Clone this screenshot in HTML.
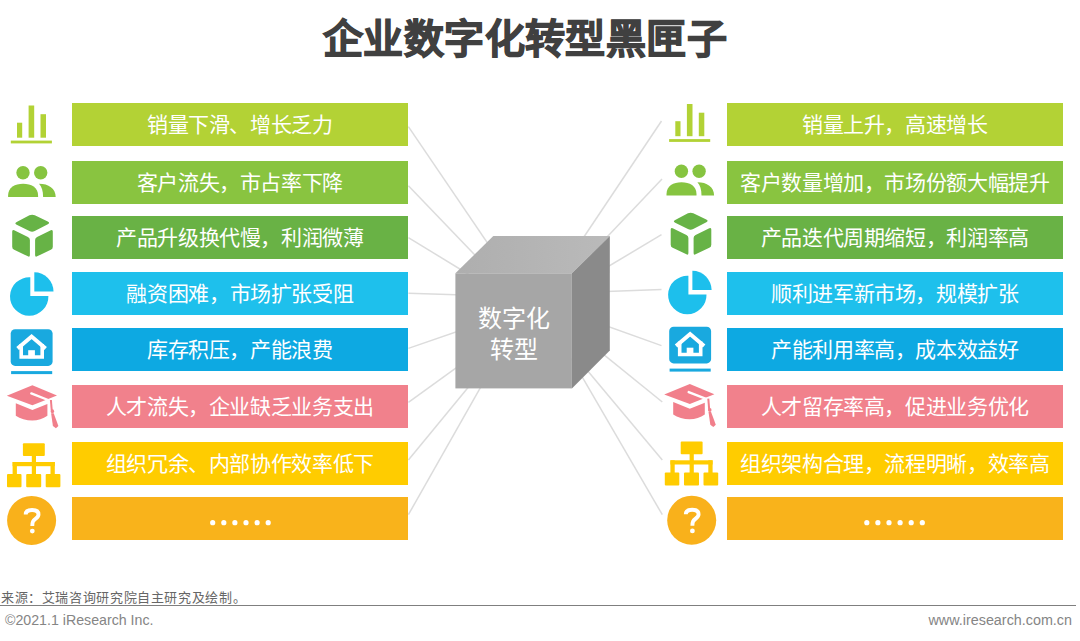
<!DOCTYPE html>
<html lang="zh-CN"><head><meta charset="utf-8">
<style>
html,body{margin:0;padding:0;background:#fff;}
body{width:1080px;height:641px;position:relative;overflow:hidden;font-family:"Liberation Sans",sans-serif;}
.title{position:absolute;left:2px;top:11px;width:1046px;text-align:center;font-size:40px;font-weight:bold;letter-spacing:0.45px;color:#404040;line-height:56px;-webkit-text-stroke:1.2px #404040;white-space:nowrap;}
.bar{position:absolute;width:336px;height:43px;color:#fff;font-size:21px;letter-spacing:-0.35px;text-indent:-0.35px;line-height:44.5px;text-align:center;white-space:nowrap;}
.l{left:72px}.r{left:727px}
.c1{background:#B3D235}.c2{background:#89C440}.c3{background:#69B245}.c4{background:#1EC0EC}.c5{background:#0DA9E2}.c6{background:#F1818C}.c7{background:#FFCC00}.c8{background:#F9B31B}
svg{position:absolute;left:0;top:0}
.src{position:absolute;left:1px;top:589px;font-size:13px;letter-spacing:0.62px;color:#666;line-height:17px;white-space:nowrap}
.hr{position:absolute;left:0;top:604.5px;width:1076px;height:1.5px;background:#7f7f7f}
.copy{position:absolute;left:5px;top:612px;font-size:14.2px;color:#858585;line-height:17px}
.web{position:absolute;right:8px;top:612px;font-size:14.35px;color:#858585;line-height:17px}
.cube{position:absolute;left:455px;top:273px;width:117px;height:115px;color:#fff;font-size:24px;line-height:31px;text-align:center;display:flex;align-items:center;justify-content:center;padding-top:6px;box-sizing:border-box}
</style></head><body>
<div class="title">企业数字化转型黑匣子</div>

<svg width="1080" height="641" viewBox="0 0 1080 641">
 <g stroke="#DCDCDC" stroke-width="1.5" fill="none">
  <line x1="408.4" y1="126.7" x2="499.8" y2="261.1"/>
  <line x1="408.4" y1="185.7" x2="491.7" y2="272.5"/>
  <line x1="408.4" y1="237.6" x2="480.3" y2="281.5"/>
  <line x1="408.4" y1="293.3" x2="479.7" y2="295.6"/>
  <line x1="408.4" y1="348.4" x2="478.3" y2="324.2"/>
  <line x1="408.4" y1="402.3" x2="459.6" y2="365.4"/>
  <line x1="408.4" y1="460.0" x2="483.3" y2="369.1"/>
  <line x1="408.4" y1="514.7" x2="492.3" y2="366.7"/>
  <line x1="661.5" y1="121.0" x2="571.5" y2="255.5"/>
  <line x1="662.0" y1="179.1" x2="592.1" y2="252.8"/>
  <line x1="661.5" y1="234.7" x2="590.6" y2="277.0"/>
  <line x1="661.5" y1="289.5" x2="585.7" y2="292.3"/>
  <line x1="661.5" y1="345.6" x2="587.2" y2="319.0"/>
  <line x1="662.3" y1="402.0" x2="587.1" y2="341.1"/>
  <line x1="662.3" y1="460.0" x2="579.2" y2="360.8"/>
  <line x1="662.3" y1="514.7" x2="571.4" y2="358.4"/>
 </g>
 <!-- cube -->
 <defs><linearGradient id="gt" x1="0" y1="0" x2="1" y2="0"><stop offset="0" stop-color="#AEAEAE"/><stop offset="1" stop-color="#BABABA"/></linearGradient></defs>
 <polygon points="455.4,273.3 493.3,236 609.8,236 571.9,273.3" fill="url(#gt)"/>
 <polygon points="571.9,273.3 609.8,236 609.8,350.5 571.9,388.4" fill="#8A8A8A"/>
 <rect x="455.4" y="273.3" width="116.5" height="115.1" fill="#A6A6A6"/>

 <g id="icons">
  <!-- bar chart -->
  <g id="ib" fill="#B2D235">
   <rect x="17" y="122.7" width="5.2" height="15"/>
   <rect x="28.6" y="105.5" width="5.6" height="32.2"/>
   <rect x="40.5" y="114.2" width="5.5" height="23.5"/>
   <rect x="10.8" y="140.6" width="41.1" height="2.8"/>
  </g>
  <!-- people -->
  <g id="ip" fill="#86C440">
   <circle cx="23" cy="172.7" r="6.7"/>
   <circle cx="40.7" cy="172.7" r="6.7"/>
   <path d="M8.1,197 L8.1,195.5 C8.1,187.5 15,183.8 23.1,183.8 C31.2,183.8 38.1,187.5 38.1,195.5 L38.1,197 Z"/>
   <path d="M39,183.8 C48.5,183.8 55.7,188.5 55.7,197 L43.1,197 C43.1,191 41.8,186.8 39,183.8 Z"/>
  </g>
  <!-- cube -->
  <g id="ic" fill="#67B346">
   <path d="M16.68,224.65 Q14.00,223.30 16.67,221.93 L29.43,215.37 Q32.10,214.00 34.81,215.29 L47.79,221.51 Q50.50,222.80 47.84,224.19 L34.76,231.01 Q32.10,232.40 29.42,231.05 Z"/>
   <path d="M12.20,231.60 Q12.20,229.40 14.18,230.35 L27.92,236.95 Q29.90,237.90 29.90,240.10 L29.90,255.10 Q29.90,257.30 27.91,256.36 L14.19,249.84 Q12.20,248.90 12.20,246.70 Z"/>
   <path d="M35.10,240.10 Q35.10,237.90 37.08,236.95 L50.82,230.35 Q52.80,229.40 52.80,231.60 L52.80,246.70 Q52.80,248.90 50.81,249.84 L37.09,256.36 Q35.10,257.30 35.10,255.10 Z"/>
  </g>
  <!-- pie -->
  <g id="ipie" fill="#1DBFEC">
   <path d="M30.3,277.3 L30.3,295.9 L48.4,295.9 A19.2,19.2 0 1 1 30.3,277.3 Z"/>
   <path d="M34.3,291.5 L34.3,272.3 A19.2,19.2 0 0 1 53.5,291.5 Z"/>
  </g>
  <!-- house -->
  <g id="ih">
   <rect x="10.7" y="329.2" width="41.9" height="36.7" rx="4.4" fill="#19A9DF"/>
   <rect x="11.1" y="371.1" width="41.1" height="3" fill="#19A9DF"/>
   <path d="M17.6,348.6 L31.6,336.6 L45.6,348.6" stroke="#fff" stroke-width="4" fill="none" stroke-linejoin="miter"/>
   <path d="M21.2,344 L21.2,357 L42.2,357 L42.2,344" stroke="#fff" stroke-width="3.6" fill="none"/>
   <rect x="28.2" y="350.2" width="6.7" height="8" fill="#fff"/>
  </g>
  <!-- cap -->
  <g id="icap" fill="#F17F8B">
   <polygon points="6.8,395.8 32.4,385.3 57,395.5 32.4,405.3"/>
   <path d="M15.8,403.3 L32.4,410 L47.4,404 L47.4,415.8 C43,419 38,420.6 32.2,420.6 C26.5,420.6 20,419 15.8,415.8 Z"/>
   <path d="M31.3,393.4 L50.6,401" stroke="#fff" stroke-width="2.4" stroke-linecap="round"/>
   <path d="M50.9,400 L51.9,412.5" stroke="#F17F8B" stroke-width="2" fill="none"/>
   <ellipse cx="52.5" cy="411.3" rx="1.6" ry="2"/>
   <polygon points="51.1,413.2 53.7,413.2 58.4,426 55.9,428.2 52.9,426"/>
  </g>
  <!-- org -->
  <g id="iorg" fill="#FFCC00">
   <rect x="22.9" y="443.2" width="21.9" height="12.7" rx="1"/>
   <rect x="31.8" y="455" width="4.2" height="20"/>
   <rect x="12.6" y="462" width="42.2" height="4.2"/>
   <rect x="12.6" y="462" width="4.3" height="13"/>
   <rect x="50.5" y="462" width="4.3" height="13"/>
   <rect x="7" y="474.1" width="14.5" height="13.1" rx="1"/>
   <rect x="26.2" y="474.1" width="15" height="13.1" rx="1"/>
   <rect x="45.7" y="474.1" width="14.7" height="13.1" rx="1"/>
  </g>
  <!-- question -->
  <g id="iq">
   <circle cx="31.6" cy="520.4" r="24.5" fill="#F9B11B"/>
   <path d="M25.7,514.5 C25.7,510.8 28.5,510 32.1,510 C35.8,510 38.5,511.5 38.5,514.5 C38.5,518 34.3,518.8 33,521.5 C32.5,522.5 32.3,523.8 32.3,526" stroke="#fff" stroke-width="3.9" fill="none"/>
   <circle cx="32.3" cy="531.1" r="2.4" fill="#fff"/>
  </g>
 </g>
 <use href="#ib" transform="translate(658.3,-1.5)"/>
 <use href="#ip" transform="translate(658.4,-1.5)"/>
 <use href="#ic" transform="translate(658.5,-2)"/>
 <use href="#ipie" transform="translate(658.1,-1.5)"/>
 <use href="#ih" transform="translate(658.5,-2.5)"/>
 <use href="#icap" transform="translate(657.4,-1.3)"/>
 <use href="#iorg" transform="translate(657.8,-1.7)"/>
 <use href="#iq" transform="translate(660.1,-0.2)"/>
 <!-- dots -->
 <g fill="#fff">
 </g>
</svg>

<div class="bar l c1" style="top:103px">销量下滑、增长乏力</div>
<div class="bar l c2" style="top:161px">客户流失，市占率下降</div>
<div class="bar l c3" style="top:216px">产品升级换代慢，利润微薄</div>
<div class="bar l c4" style="top:272px">融资困难，市场扩张受阻</div>
<div class="bar l c5" style="top:327.8px">库存积压，产能浪费</div>
<div class="bar l c6" style="top:384.5px">人才流失，企业缺乏业务支出</div>
<div class="bar l c7" style="top:442px">组织冗余、内部协作效率低下</div>
<div class="bar l c8" style="top:497px"></div>

<div class="bar r c1" style="top:103px">销量上升，高速增长</div>
<div class="bar r c2" style="top:161px">客户数量增加，市场份额大幅提升</div>
<div class="bar r c3" style="top:216px">产品迭代周期缩短，利润率高</div>
<div class="bar r c4" style="top:272px">顺利进军新市场，规模扩张</div>
<div class="bar r c5" style="top:327.8px">产能利用率高，成本效益好</div>
<div class="bar r c6" style="top:384.5px">人才留存率高，促进业务优化</div>
<div class="bar r c7" style="top:442px">组织架构合理，流程明晰，效率高</div>
<div class="bar r c8" style="top:497px"></div>

<svg width="1080" height="641" viewBox="0 0 1080 641" style="pointer-events:none">
 <g fill="#fff">
  <circle cx="212.7" cy="522.7" r="2.6"/><circle cx="223.8" cy="522.7" r="2.6"/><circle cx="234.9" cy="522.7" r="2.6"/><circle cx="246" cy="522.7" r="2.6"/><circle cx="257.1" cy="522.7" r="2.6"/><circle cx="268.2" cy="522.7" r="2.6"/>
  <circle cx="866.8" cy="522.7" r="2.6"/><circle cx="877.9" cy="522.7" r="2.6"/><circle cx="889" cy="522.7" r="2.6"/><circle cx="900.1" cy="522.7" r="2.6"/><circle cx="911.2" cy="522.7" r="2.6"/><circle cx="922.3" cy="522.7" r="2.6"/>
 </g>
</svg>

<div class="cube">数字化<br>转型</div>

<div class="src">来源：艾瑞咨询研究院自主研究及绘制。</div>
<div class="hr"></div>
<div class="copy">©2021.1 iResearch Inc.</div>
<div class="web">www.iresearch.com.cn</div>
</body></html>
